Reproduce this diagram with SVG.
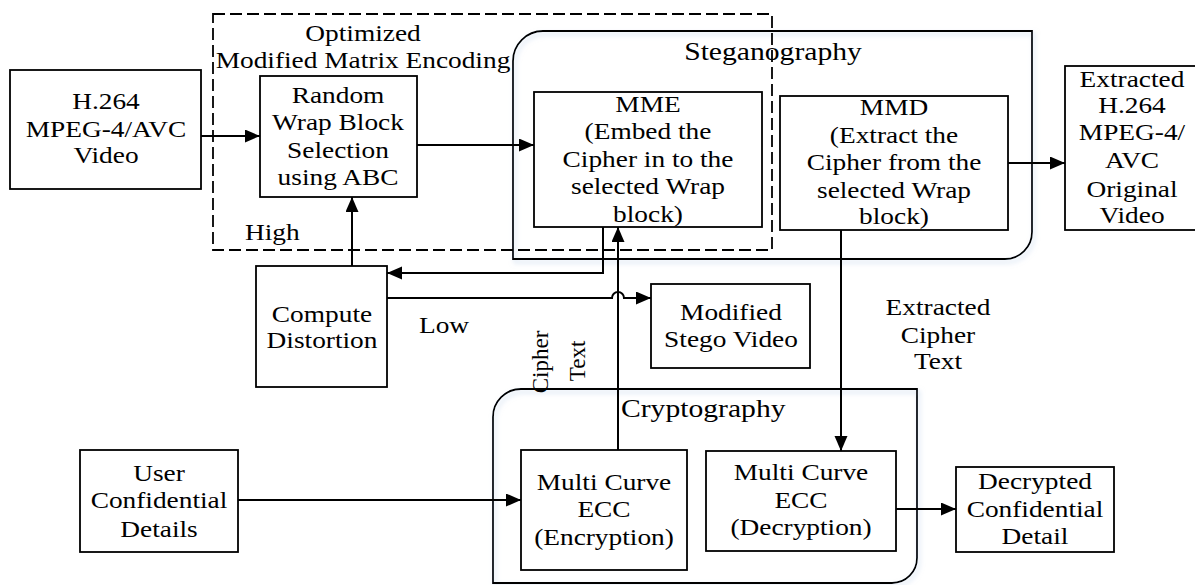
<svg xmlns="http://www.w3.org/2000/svg" width="1195" height="585" viewBox="0 0 1195 585">
<style>
text{font-family:'Liberation Serif','Times New Roman','DejaVu Serif',serif;font-size:24px;fill:#000;text-anchor:middle}
text.l{text-anchor:start}
text.g{font-size:26px}
.box{fill:#fff;stroke:#000;stroke-width:1.8}
.grp{fill:none;stroke:#000;stroke-width:1.8}
.dash{fill:none;stroke:#000;stroke-width:1.8;stroke-dasharray:12 5}
.c{fill:none;stroke:#000;stroke-width:2}
</style>
<defs>
<marker id="ah" markerUnits="userSpaceOnUse" markerWidth="16" markerHeight="14" refX="15" refY="6.5" orient="auto">
<path d="M0,0 L15,6.5 L0,13 Z" fill="#000"/>
</marker>
<filter id="sh" x="-5%" y="-5%" width="110%" height="115%">
<feDropShadow dx="2" dy="3" stdDeviation="2.5" flood-color="#a9c2e2" flood-opacity="0.55"/>
</filter>
</defs>
<rect width="1195" height="585" fill="#fff"/>

<g id="steganography">
<path class="grp" filter="url(#sh)" d="M513,61 A30,30 0 0 1 543,31 L1032,31 L1032,232 A27,27 0 0 1 1005,259 L513,259 Z" fill="#fff"/>
<text class="g" font-family="Liberation Serif, serif" transform="matrix(1.14 0 0 1 773 0)"><tspan x="0" y="60">Steganography</tspan></text>
</g>

<g id="cryptography">
<path class="grp" filter="url(#sh)" d="M493,417 A28,28 0 0 1 521,389 L917,389 L917,558 A25,25 0 0 1 892,583 L493,583 Z" fill="#fff"/>
<text class="g l" font-family="Liberation Serif, serif" transform="matrix(1.14 0 0 1 621 0)"><tspan x="0" y="417">Cryptography</tspan></text>
</g>

<g id="optimized-mme">
<rect class="dash" x="213" y="14" width="559" height="236"/>
<text transform="matrix(1.14 0 0 1 363 0)"><tspan x="0" y="41">Optimized</tspan><tspan x="0" y="68">Modified Matrix Encoding</tspan></text>
</g>

<g id="h264">
<rect class="box" x="10" y="70" width="191" height="119"/>
<text transform="matrix(1.14 0 0 1 106 0)"><tspan x="0" y="109">H.264</tspan><tspan x="0" y="137">MPEG-4/AVC</tspan><tspan x="0" y="163">Video</tspan></text>
</g>

<g id="random">
<rect class="box" x="260" y="76" width="157" height="121"/>
<text transform="matrix(1.14 0 0 1 338 0)"><tspan x="0" y="103">Random</tspan><tspan x="0" y="130">Wrap Block</tspan><tspan x="0" y="158">Selection</tspan><tspan x="0" y="185">using ABC</tspan></text>
</g>

<g id="mme">
<rect class="box" x="534" y="92" width="228" height="135"/>
<text transform="matrix(1.14 0 0 1 648 0)"><tspan x="0" y="112">MME</tspan><tspan x="0" y="139">(Embed the</tspan><tspan x="0" y="167">Cipher in to the</tspan><tspan x="0" y="194">selected Wrap</tspan><tspan x="0" y="222">block)</tspan></text>
</g>

<g id="mmd">
<rect class="box" x="780" y="96" width="228" height="134"/>
<text transform="matrix(1.14 0 0 1 894 0)"><tspan x="0" y="115">MMD</tspan><tspan x="0" y="143">(Extract the</tspan><tspan x="0" y="170">Cipher from the</tspan><tspan x="0" y="198">selected Wrap</tspan><tspan x="0" y="224">block)</tspan></text>
</g>

<g id="extracted-video">
<rect class="box" x="1065" y="66" width="136" height="164"/>
<text transform="matrix(1.14 0 0 1 1132 0)"><tspan x="0" y="87">Extracted</tspan><tspan x="0" y="113">H.264</tspan><tspan x="0" y="140">MPEG-4/</tspan><tspan x="0" y="168">AVC</tspan><tspan x="0" y="197">Original</tspan><tspan x="0" y="223">Video</tspan></text>
</g>

<g id="compute">
<rect class="box" x="256" y="266" width="131" height="121"/>
<text transform="matrix(1.14 0 0 1 322 0)"><tspan x="0" y="322">Compute</tspan><tspan x="0" y="348">Distortion</tspan></text>
</g>

<g id="stego-video">
<rect class="box" x="651" y="284" width="159" height="84"/>
<text transform="matrix(1.14 0 0 1 731 0)"><tspan x="0" y="320">Modified</tspan><tspan x="0" y="347">Stego Video</tspan></text>
</g>

<g id="user">
<rect class="box" x="80" y="450" width="158" height="102"/>
<text transform="matrix(1.14 0 0 1 159 0)"><tspan x="0" y="481">User</tspan><tspan x="0" y="508">Confidential</tspan><tspan x="0" y="537">Details</tspan></text>
</g>

<g id="encryption">
<rect class="box" x="521" y="450" width="166" height="120"/>
<text transform="matrix(1.14 0 0 1 604 0)"><tspan x="0" y="490">Multi Curve</tspan><tspan x="0" y="517">ECC</tspan><tspan x="0" y="545">(Encryption)</tspan></text>
</g>

<g id="decryption">
<rect class="box" x="706" y="451" width="190" height="100"/>
<text transform="matrix(1.14 0 0 1 801 0)"><tspan x="0" y="480">Multi Curve</tspan><tspan x="0" y="508">ECC</tspan><tspan x="0" y="535">(Decryption)</tspan></text>
</g>

<g id="decrypted">
<rect class="box" x="956" y="467" width="158" height="85"/>
<text transform="matrix(1.14 0 0 1 1035 0)"><tspan x="0" y="489">Decrypted</tspan><tspan x="0" y="517">Confidential</tspan><tspan x="0" y="544">Detail</tspan></text>
</g>

<g id="connectors">
<path class="c" marker-end="url(#ah)" d="M201,136 L260,136"/>
<path class="c" marker-end="url(#ah)" d="M417,145 L534,145"/>
<path class="c" marker-end="url(#ah)" d="M352,266 L352,197"/>
<path class="c" marker-end="url(#ah)" d="M603,227 L603,273 L387,273"/>
<path class="c" marker-end="url(#ah)" d="M387,298 L612,298 A6,6 0 0 1 624,298 L651,298"/>
<path class="c" marker-end="url(#ah)" d="M618,450 L618,227"/>
<path class="c" marker-end="url(#ah)" d="M1008,163 L1065,163"/>
<path class="c" marker-end="url(#ah)" d="M841,230 L841,451"/>
<path class="c" marker-end="url(#ah)" d="M238,500 L521,500"/>
<path class="c" marker-end="url(#ah)" d="M896,509 L956,509"/>
</g>

<g id="labels">
<text class="l" transform="matrix(1.14 0 0 1 245 0)"><tspan x="0" y="240">High</tspan></text>
<text class="l" transform="matrix(1.14 0 0 1 419 0)"><tspan x="0" y="333">Low</tspan></text>
<text style="font-size:23px" transform="translate(548,362) rotate(-90)"><tspan x="0" y="0">Cipher</tspan></text>
<text style="font-size:23px" transform="translate(585,361) rotate(-90)"><tspan x="0" y="0">Text</tspan></text>
<text transform="matrix(1.14 0 0 1 938 0)"><tspan x="0" y="315">Extracted</tspan><tspan x="0" y="343">Cipher</tspan><tspan x="0" y="369">Text</tspan></text>
</g>
</svg>
